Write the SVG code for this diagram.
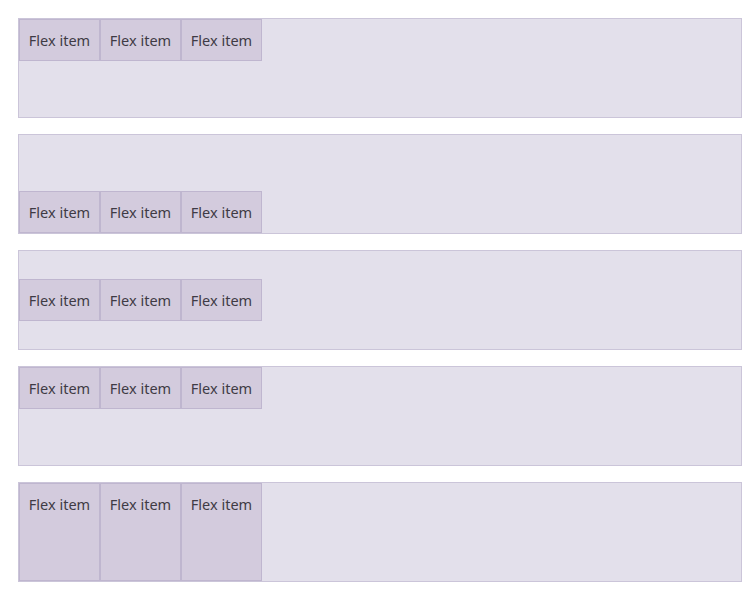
<svg xmlns="http://www.w3.org/2000/svg" width="756" height="592" viewBox="0 0 756 592">
<style>
.box{fill:#e3e0eb;stroke:#cbc5d9;stroke-width:1}
.item{fill:#d3cbdd;stroke:#bfb6cf;stroke-width:1}
text{font-family:"Noto Sans","Open Sans","DejaVu Sans",sans-serif;font-size:14.5px;fill:#3f3b45;text-anchor:middle}
</style>
<rect width="756" height="592" fill="#ffffff"/>
<g id="container1">
<rect class="box" x="18.5" y="18.5" width="723" height="99"/>
<g id="c1-item1"><rect class="item" x="19.5" y="19.5" width="80" height="41"/><text x="59.5" y="45.5">Flex item</text></g>
<g id="c1-item2"><rect class="item" x="100.5" y="19.5" width="80" height="41"/><text x="140.5" y="45.5">Flex item</text></g>
<g id="c1-item3"><rect class="item" x="181.5" y="19.5" width="80" height="41"/><text x="221.5" y="45.5">Flex item</text></g>
</g>
<g id="container2">
<rect class="box" x="18.5" y="134.5" width="723" height="99"/>
<g id="c2-item1"><rect class="item" x="19.5" y="191.5" width="80" height="41"/><text x="59.5" y="217.5">Flex item</text></g>
<g id="c2-item2"><rect class="item" x="100.5" y="191.5" width="80" height="41"/><text x="140.5" y="217.5">Flex item</text></g>
<g id="c2-item3"><rect class="item" x="181.5" y="191.5" width="80" height="41"/><text x="221.5" y="217.5">Flex item</text></g>
</g>
<g id="container3">
<rect class="box" x="18.5" y="250.5" width="723" height="99"/>
<g id="c3-item1"><rect class="item" x="19.5" y="279.5" width="80" height="41"/><text x="59.5" y="305.5">Flex item</text></g>
<g id="c3-item2"><rect class="item" x="100.5" y="279.5" width="80" height="41"/><text x="140.5" y="305.5">Flex item</text></g>
<g id="c3-item3"><rect class="item" x="181.5" y="279.5" width="80" height="41"/><text x="221.5" y="305.5">Flex item</text></g>
</g>
<g id="container4">
<rect class="box" x="18.5" y="366.5" width="723" height="99"/>
<g id="c4-item1"><rect class="item" x="19.5" y="367.5" width="80" height="41"/><text x="59.5" y="393.5">Flex item</text></g>
<g id="c4-item2"><rect class="item" x="100.5" y="367.5" width="80" height="41"/><text x="140.5" y="393.5">Flex item</text></g>
<g id="c4-item3"><rect class="item" x="181.5" y="367.5" width="80" height="41"/><text x="221.5" y="393.5">Flex item</text></g>
</g>
<g id="container5">
<rect class="box" x="18.5" y="482.5" width="723" height="99"/>
<g id="c5-item1"><rect class="item" x="19.5" y="483.5" width="80" height="97"/><text x="59.5" y="509.5">Flex item</text></g>
<g id="c5-item2"><rect class="item" x="100.5" y="483.5" width="80" height="97"/><text x="140.5" y="509.5">Flex item</text></g>
<g id="c5-item3"><rect class="item" x="181.5" y="483.5" width="80" height="97"/><text x="221.5" y="509.5">Flex item</text></g>
</g>
<g id="connectors"/>
</svg>
